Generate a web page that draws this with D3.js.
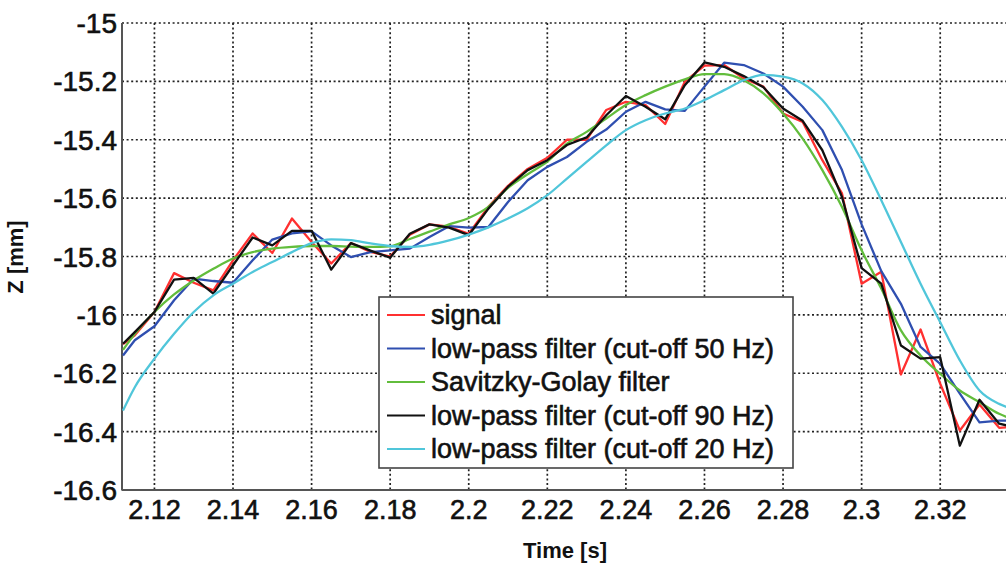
<!DOCTYPE html>
<html>
<head>
<meta charset="utf-8">
<script src="https://cdn.jsdelivr.net/npm/d3@7"></script>
<style>
  html, body { margin: 0; padding: 0; background: #fff; }
  svg { display: block; }
  text { font-family: "Liberation Sans", Arial, Helvetica, sans-serif; fill: #111; }
  .heavy { stroke: #111; stroke-width: 0.6px; }
</style>
</head>
<body>
<svg id="chart" width="1006" height="565"></svg>
<script>
// Sample times [s]
const time = [2.112, 2.115, 2.120, 2.125, 2.130, 2.135, 2.140, 2.145, 2.150, 2.155,
  2.160, 2.165, 2.170, 2.175, 2.180, 2.185, 2.190, 2.195, 2.200, 2.205,
  2.210, 2.215, 2.220, 2.225, 2.230, 2.235, 2.240, 2.245, 2.250, 2.255,
  2.260, 2.265, 2.270, 2.275, 2.280, 2.285, 2.290, 2.295, 2.300, 2.305,
  2.310, 2.315, 2.320, 2.325, 2.330, 2.335, 2.337];

// Raw Z signal [mm]
const signal = [-16.100, -16.070, -15.990, -15.857, -15.890, -15.916, -15.813, -15.721, -15.788, -15.670,
  -15.750, -15.824, -15.754, -15.784, -15.800, -15.725, -15.690, -15.698, -15.722, -15.630,
  -15.558, -15.500, -15.462, -15.400, -15.400, -15.298, -15.270, -15.281, -15.346, -15.201,
  -15.146, -15.144, -15.190, -15.218, -15.310, -15.339, -15.470, -15.584, -15.893, -15.852,
  -16.204, -16.050, -16.236, -16.396, -16.307, -16.387, -16.385];

// Low-pass filter, cut-off 50 Hz
const lp50 = [-16.139, -16.087, -16.039, -15.950, -15.876, -15.884, -15.890, -15.813, -15.742, -15.721,
  -15.714, -15.762, -15.802, -15.785, -15.779, -15.773, -15.733, -15.696, -15.701, -15.699,
  -15.613, -15.539, -15.493, -15.459, -15.407, -15.365, -15.304, -15.270, -15.296, -15.301,
  -15.218, -15.136, -15.144, -15.173, -15.218, -15.287, -15.367, -15.504, -15.690, -15.850,
  -15.962, -16.110, -16.168, -16.270, -16.368, -16.362, -16.362];

// Savitzky-Golay filter
const savgol = [-16.120, -16.065, -15.990, -15.930, -15.882, -15.842, -15.807, -15.785, -15.773, -15.767,
  -15.764, -15.764, -15.766, -15.767, -15.765, -15.740, -15.715, -15.690, -15.668, -15.630,
  -15.565, -15.518, -15.475, -15.413, -15.373, -15.327, -15.281, -15.247, -15.218, -15.193,
  -15.175, -15.175, -15.196, -15.241, -15.310, -15.396, -15.504, -15.630, -15.779, -15.910,
  -16.053, -16.139, -16.202, -16.259, -16.299, -16.339, -16.350];

// Low-pass filter, cut-off 90 Hz
const lp90 = [-16.099, -16.059, -15.990, -15.879, -15.873, -15.927, -15.830, -15.735, -15.762, -15.712,
  -15.712, -15.845, -15.754, -15.780, -15.804, -15.722, -15.690, -15.701, -15.727, -15.636,
  -15.561, -15.504, -15.470, -15.418, -15.392, -15.316, -15.250, -15.287, -15.330, -15.213,
  -15.135, -15.150, -15.182, -15.220, -15.293, -15.335, -15.436, -15.596, -15.840, -15.893,
  -16.105, -16.150, -16.145, -16.448, -16.291, -16.373, -16.379];

// Low-pass filter, cut-off 20 Hz
const lp20 = [-16.328, -16.248, -16.150, -16.065, -15.990, -15.933, -15.893, -15.853, -15.819, -15.785,
  -15.754, -15.741, -15.744, -15.755, -15.764, -15.767, -15.760, -15.745, -15.725, -15.700,
  -15.670, -15.635, -15.590, -15.533, -15.476, -15.419, -15.367, -15.333, -15.310, -15.293,
  -15.264, -15.230, -15.196, -15.178, -15.184, -15.207, -15.264, -15.356, -15.470, -15.607,
  -15.750, -15.893, -16.025, -16.156, -16.259, -16.305, -16.316];

const seriesNames = ["signal", "low-pass filter (cut-off 50 Hz)", "Savitzky-Golay filter",
  "low-pass filter (cut-off 90 Hz)", "low-pass filter (cut-off 20 Hz)"];
const seriesValues = [signal, lp50, savgol, lp90, lp20];
const seriesColors = ["#ff3030", "#2f4fb0", "#62bd3c", "#111111", "#50c6da"];

const xTicks = [2.12, 2.14, 2.16, 2.18, 2.2, 2.22, 2.24, 2.26, 2.28, 2.3, 2.32];
const yTicks = [-15, -15.2, -15.4, -15.6, -15.8, -16, -16.2, -16.4, -16.6];
const xTickLabels = ["2.12", "2.14", "2.16", "2.18", "2.2", "2.22", "2.24", "2.26", "2.28", "2.3", "2.32"];
const yTickLabels = ["-15", "-15.2", "-15.4", "-15.6", "-15.8", "-16", "-16.2", "-16.4", "-16.6"];

const svg = d3.select("#chart");
const W = 1006;
const plotLeft = 122, plotTop = 23, plotBottom = 490;

const x = d3.scaleLinear().domain([2.112, 2.337]).range([123, 1007]);
const y = d3.scaleLinear().domain([-16.6, -15]).range([plotBottom, plotTop]);

svg.append("defs").append("clipPath").attr("id", "plotClip")
  .append("rect").attr("x", plotLeft).attr("y", plotTop - 2)
  .attr("width", W - plotLeft).attr("height", plotBottom - plotTop + 2);

// dotted grid
const grid = svg.append("g");
grid.selectAll("line.vx").data(xTicks).join("line").attr("class", "vx")
  .attr("x1", d => x(d)).attr("x2", d => x(d))
  .attr("y1", plotTop).attr("y2", plotBottom)
  .attr("stroke", "#222").attr("stroke-width", 1.7).attr("stroke-dasharray", "2,2.6");
grid.selectAll("line.hy").data(yTicks).join("line").attr("class", "hy")
  .attr("x1", plotLeft).attr("x2", W)
  .attr("y1", d => y(d)).attr("y2", d => y(d))
  .attr("stroke", "#222").attr("stroke-width", 1.7).attr("stroke-dasharray", "2,2.6");

// axis lines
svg.append("line").attr("x1", plotLeft).attr("x2", plotLeft).attr("y1", plotTop).attr("y2", plotBottom + 0.5)
  .attr("stroke", "#555").attr("stroke-width", 2);
svg.append("line").attr("x1", plotLeft).attr("x2", W).attr("y1", plotBottom).attr("y2", plotBottom)
  .attr("stroke", "#555").attr("stroke-width", 2);

// series
const lineGen = d3.line().x(d => x(d[0])).y(d => y(d[1]));
const smoothGen = d3.line().x(d => x(d[0])).y(d => y(d[1])).curve(d3.curveMonotoneX);
const plot = svg.append("g").attr("clip-path", "url(#plotClip)");
seriesValues.forEach((vals, i) => {
  const pts = time.map((t, k) => [t, vals[k]]);
  const gen = (i === 2 || i === 4) ? smoothGen : lineGen;
  plot.append("path").datum(pts)
    .attr("d", gen)
    .attr("fill", "none")
    .attr("stroke", seriesColors[i])
    .attr("stroke-width", 2.3)
    .attr("stroke-linejoin", "round");
});

// tick labels
svg.append("g").selectAll("text").data(xTicks).join("text")
  .attr("class", "heavy")
  .attr("x", d => x(d)).attr("y", 519)
  .attr("text-anchor", "middle")
  .attr("font-size", 27)
  .text((d, i) => xTickLabels[i]);
svg.append("g").selectAll("text").data(yTicks).join("text")
  .attr("class", "heavy")
  .attr("x", 117).attr("y", d => y(d) + 10)
  .attr("text-anchor", "end")
  .attr("font-size", 28)
  .text((d, i) => yTickLabels[i]);

// axis titles
svg.append("text").attr("x", 565).attr("y", 558)
  .attr("text-anchor", "middle").attr("font-size", 22).attr("font-weight", "bold")
  .text("Time [s]");
svg.append("text")
  .attr("transform", "translate(23,257) rotate(-90)")
  .attr("text-anchor", "middle").attr("font-size", 22).attr("font-weight", "bold")
  .text("Z [mm]");

// legend
const lg = svg.append("g");
lg.append("rect").attr("x", 379).attr("y", 297).attr("width", 414).attr("height", 171)
  .attr("fill", "#fff").attr("stroke", "#444").attr("stroke-width", 1.6);
seriesNames.forEach((name, i) => {
  const cy = 315 + i * 33.5;
  lg.append("line").attr("x1", 387).attr("x2", 425).attr("y1", cy).attr("y2", cy)
    .attr("stroke", seriesColors[i]).attr("stroke-width", 2.2);
  lg.append("text").attr("class", "heavy").attr("x", 431).attr("y", cy + 9)
    .attr("font-size", 27).text(name);
});
</script>
</body>
</html>
